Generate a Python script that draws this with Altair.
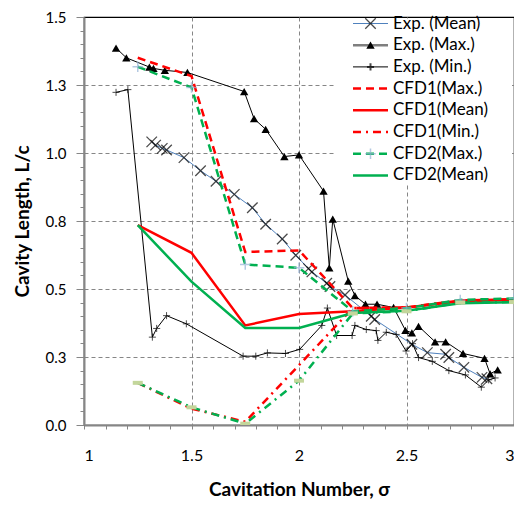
import altair as alt
import pandas as pd

# ---------------- data ----------------
exp_mean_x = [1.315, 1.333, 1.364, 1.384, 1.465, 1.542, 1.614, 1.699, 1.783, 1.845, 1.922, 1.985,
              2.044, 2.060, 2.129, 2.144, 2.214, 2.336, 2.352, 2.525, 2.597, 2.682, 2.697, 2.767,
              2.851, 2.874]
exp_mean_y = [1.041, 1.029, 1.017, 1.011, 0.983, 0.935, 0.896, 0.848, 0.799, 0.738, 0.684, 0.624,
              0.575, 0.563, 0.521, 0.509, 0.478, 0.400, 0.388, 0.297, 0.266, 0.260, 0.248, 0.212,
              0.175, 0.170]

exp_max_x = [1.149, 1.197, 1.304, 1.323, 1.376, 1.481, 1.745, 1.791, 1.845, 1.932, 2.000, 2.114,
             2.141, 2.157, 2.229, 2.260, 2.309, 2.363, 2.440, 2.495, 2.525, 2.556, 2.633, 2.682,
             2.763, 2.863, 2.889, 2.924]
exp_max_y = [1.386, 1.350, 1.316, 1.311, 1.304, 1.296, 1.226, 1.126, 1.087, 0.987, 0.993, 0.860,
             0.578, 0.757, 0.529, 0.476, 0.444, 0.444, 0.432, 0.348, 0.339, 0.363, 0.306, 0.306,
             0.263, 0.245, 0.188, 0.203]

exp_min_x = [1.149, 1.204, 1.318, 1.338, 1.384, 1.476, 1.740, 1.799, 1.853, 1.937, 2.003, 2.106,
             2.132, 2.175, 2.247, 2.260, 2.313, 2.359, 2.367, 2.406, 2.452, 2.498, 2.528, 2.556,
             2.620, 2.697, 2.774, 2.848, 2.882, 2.912]
exp_min_y = [1.223, 1.233, 0.323, 0.355, 0.402, 0.372, 0.253, 0.253, 0.265, 0.263, 0.278, 0.366,
             0.430, 0.329, 0.329, 0.366, 0.351, 0.347, 0.311, 0.341, 0.333, 0.272, 0.299, 0.248,
             0.234, 0.200, 0.184, 0.139, 0.166, 0.173]

cfd_x = [1.25, 1.5, 1.75, 2.0, 2.25, 2.5, 2.75, 3.0]
cfd1_max = [1.350, 1.283, 0.636, 0.642, 0.430, 0.432, 0.458, 0.462]
cfd1_mean = [0.735, 0.633, 0.366, 0.408, 0.418, 0.432, 0.455, 0.460]
cfd1_min = [0.155, 0.060, 0.012, 0.220, 0.430, 0.432, 0.458, 0.462]
cfd2_max = [1.317, 1.241, 0.590, 0.578, 0.418, 0.430, 0.460, 0.465]
cfd2_mean = [0.735, 0.527, 0.357, 0.357, 0.412, 0.420, 0.448, 0.452]
cfd2_min = [0.155, 0.065, 0.005, 0.163, 0.410, 0.418, 0.450, 0.452]

legend_labels = ["Exp. (Mean)", "Exp. (Max.)", "Exp. (Min.)", "CFD1(Max.)", "CFD1(Mean)",
                 "CFD1(Min.)", "CFD2(Max.)", "CFD2(Mean)"]

FONT = "Lato"
RED = "#FF0000"
GREEN = "#00B050"
BLUE = "#4F81BD"
LBLUE = "#95B3D7"
LGREEN = "#C3D69B"
GRAY = "#868686"

X_PATH = "M-1,-1L1,1M-1,1L1,-1"
PLUS_PATH = "M-1,0L1,0M0,-1L0,1"
BAR_PATH = "M-1,-0.4L1,-0.4L1,0.4L-1,0.4Z"

# ---------------- scales / axes ----------------
x_major = "abs(datum.value*2-round(datum.value*2))<0.001"
y_major = "abs(datum.value*4-round(datum.value*4))<0.001"

x_axis = alt.Axis(
    values=[round(1 + i * 0.1, 2) for i in range(21)],
    labelExpr=f"{x_major} ? format(datum.value, '~g') : ''",
    labelFont=FONT, labelFontSize=16, labelColor="black", labelPadding=18,
    title="Cavitation Number, σ", titleFont=FONT, titleFontSize=19, titleFontWeight="bold",
    titleColor="black", titlePadding=17,
    domainColor=GRAY, domainWidth=2, tickColor=GRAY, tickSize=4,
    grid=True, gridColor=GRAY, gridDash=[4, 3], gridWidth=1,
    gridOpacity={"condition": {"test": f"{x_major} && datum.value>1.01 && datum.value<2.99",
                               "value": 1}, "value": 0},
)
y_axis = alt.Axis(
    values=[round(i * 0.05, 2) for i in range(31)],
    labelExpr=f"{y_major} ? format(datum.value, '.1f') : ''",
    labelFont=FONT, labelFontSize=15, labelColor="black", labelPadding=10,
    title="Cavity Length, L/c", titleFont=FONT, titleFontSize=19, titleFontWeight="bold",
    titleColor="black", titlePadding=13,
    domainColor=GRAY, domainWidth=2, tickColor=GRAY,
    tickSize={"condition": {"test": y_major, "value": 8}, "value": 4},
    grid=True, gridColor=GRAY, gridDash=[4, 3], gridWidth=1,
    gridOpacity={"condition": {"test": f"{y_major} && datum.value>0.01 && datum.value<1.49",
                               "value": 1}, "value": 0},
)
xs = alt.Scale(domain=[1, 3], nice=False, zero=False)
ys = alt.Scale(domain=[0, 1.5], nice=False, zero=False)


def frame(xv, yv):
    return pd.DataFrame({"x": xv, "y": yv, "i": list(range(len(xv)))})


def enc(ch):
    return ch.encode(
        x=alt.X("x:Q", scale=xs, axis=x_axis),
        y=alt.Y("y:Q", scale=ys, axis=y_axis),
    )


def line(xv, yv, **kw):
    return enc(alt.Chart(frame(xv, yv)).mark_line(clip=True, **kw)).encode(order="i:Q")


def pts(xv, yv, **kw):
    return enc(alt.Chart(frame(xv, yv)).mark_point(clip=True, **kw))


one = pd.DataFrame({"a": [0]})

# legend background box (white, covers gridlines, not the frame)
legend_bg = alt.Chart(one).mark_rect(fill="white", stroke=None).encode(
    x=alt.value(251), x2=alt.value(428), y=alt.value(1.5), y2=alt.value(168))

layers = [
    enc(alt.Chart(frame([1, 3], [0, 1.5])).mark_point(opacity=0)),
    legend_bg,
    # experimental
    line(exp_mean_x, exp_mean_y, color=BLUE, strokeWidth=1),
    pts(exp_mean_x, exp_mean_y, shape=X_PATH, size=110, filled=False, color="black", strokeWidth=1.3),
    line(exp_max_x, exp_max_y, color="black", strokeWidth=1),
    pts(exp_max_x, exp_max_y, shape="triangle-up", size=70, filled=True, color="black", opacity=1),
    line(exp_min_x, exp_min_y, color="black", strokeWidth=1),
    pts(exp_min_x, exp_min_y, shape=PLUS_PATH, size=50, filled=False, color="black", strokeWidth=1),
    # CFD1
    line(cfd_x, cfd1_max, color=RED, strokeWidth=2.5, strokeDash=[8, 5]),
    line(cfd_x, cfd1_mean, color=RED, strokeWidth=2.5),
    line(cfd_x, cfd1_min, color=RED, strokeWidth=2.5, strokeDash=[8, 5, 2, 5]),
    # CFD2
    line(cfd_x, cfd2_max, color=GREEN, strokeWidth=2.5, strokeDash=[8, 5]),
    pts(cfd_x, cfd2_max, shape=PLUS_PATH, size=110, filled=False, color=LBLUE, strokeWidth=1.5),
    line(cfd_x, cfd2_mean, color=GREEN, strokeWidth=2.5),
    line(cfd_x, cfd2_min, color=GREEN, strokeWidth=2.5, strokeDash=[8, 5, 2, 5]),
    pts(cfd_x, cfd2_min, shape=BAR_PATH, size=100, filled=True, color=LGREEN, opacity=1),
]

# ---------------- custom legend ----------------
leg_styles = [
    dict(color=BLUE, strokeWidth=1, marker=dict(shape=X_PATH, size=110, filled=False, color="black", strokeWidth=1.3)),
    dict(color="#7F7F7F", strokeWidth=2.5, marker=dict(shape="triangle-up", size=70, filled=True, color="black", opacity=1)),
    dict(color="black", strokeWidth=1, marker=dict(shape=PLUS_PATH, size=50, filled=False, color="black")),
    dict(color=RED, strokeWidth=2.5, strokeDash=[8, 5]),
    dict(color=RED, strokeWidth=2.5),
    dict(color=RED, strokeWidth=2.5, strokeDash=[8, 5, 2, 5]),
    dict(color=GREEN, strokeWidth=2.5, strokeDash=[8, 5],
         marker=dict(shape=PLUS_PATH, size=110, filled=False, color=LBLUE, strokeWidth=1.5)),
    dict(color=GREEN, strokeWidth=2.5),
]
LX0, LX1, LTX, LY0, LDY = 269, 304, 309, 6.5, 21.7
for k, (lab, st) in enumerate(zip(legend_labels, leg_styles)):
    py = LY0 + k * LDY
    st = dict(st)
    mk = st.pop("marker", None)
    layers.append(alt.Chart(one).mark_rule(**st).encode(
        x=alt.value(LX0), x2=alt.value(LX1), y=alt.value(py)))
    if mk:
        layers.append(alt.Chart(one).mark_point(**mk).encode(
            x=alt.value((LX0 + LX1) / 2), y=alt.value(py)))
    layers.append(alt.Chart(one).mark_text(
        align="left", baseline="middle", font=FONT, fontSize=17, color="black", text=lab
    ).encode(x=alt.value(LTX), y=alt.value(py)))

# svg must stay within 506 x 494 so the page does not overflow
chart = alt.layer(*layers).properties(
    width=430, height=408,
    padding={"left": 76, "top": 9, "right": 0, "bottom": 77},
    autosize=alt.AutoSizeParams(type="none"),
    background="white",
).configure_view(stroke="black", strokeWidth=1.2)

chart.save("out.html", embed_options={"renderer": "svg", "actions": False})
